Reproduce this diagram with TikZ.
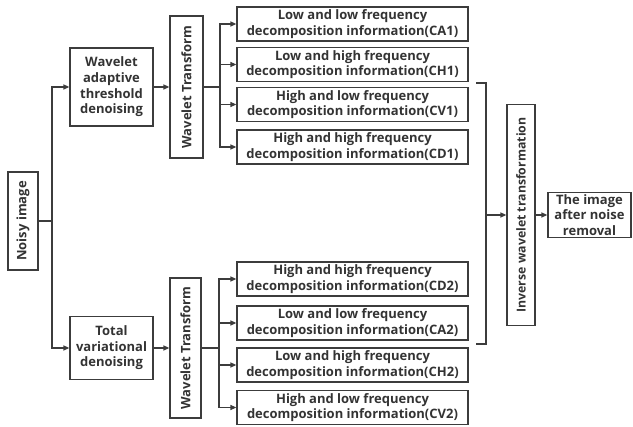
\documentclass[tikz,border=0pt]{standalone}
\usepackage{fontspec}
\setmainfont{Open Sans}
\usetikzlibrary{arrows.meta}
\definecolor{ln}{HTML}{3C3C3C}
\definecolor{tx}{HTML}{333333}
\begin{document}
\begin{tikzpicture}[x=1pt,y=-1pt,
  every node/.style={font=\fontsize{13}{15.6}\selectfont\bfseries, text=tx},
  box/.style={draw=ln, line width=1.2pt, inner sep=1pt, align=center},
  vbox/.style={box, rotate=90},
  conn/.style={draw=ln, line width=1.2pt},
  arr/.style={conn, -{Triangle[length=6pt,width=5pt]}}]
\useasboundingbox (0,0) rectangle (633,427);
% left
\node[vbox, minimum width=98, minimum height=30] (noisy) at (23,221) {Noisy image};
\node[box, minimum width=83, minimum height=78] (wat) at (111.5,87) {Wavelet\\adaptive\\threshold\\denoising};
\node[box, minimum width=83, minimum height=63] (tv) at (111.5,348) {Total\\variational\\denoising};
\node[vbox, minimum width=142, minimum height=33] (wt1) at (186.5,87) {Wavelet Transform};
\node[vbox, minimum width=140, minimum height=31] (wt2) at (185.5,348) {Wavelet Transform};
% decomposition boxes
\foreach \n/\y/\t in {a1/24/{Low and low frequency\\decomposition information(CA1)},
                      a2/64.5/{Low and high frequency\\decomposition information(CH1)},
                      a3/104.5/{High and low frequency\\decomposition information(CV1)},
                      a4/147/{High and high frequency\\decomposition information(CD1)},
                      b1/279/{High and high frequency\\decomposition information(CD2)},
                      b2/323/{Low and low frequency\\decomposition information(CA2)},
                      b3/365/{Low and high frequency\\decomposition information(CH2)},
                      b4/407.5/{High and low frequency\\decomposition information(CV2)}}
  \node[box, minimum width=231, minimum height=34] (\n) at (352.5,\y) {\t};
% right
\node[vbox, minimum width=221, minimum height=28, font=\fontsize{12.3}{15}\selectfont\bfseries] (iwt) at (521,215) {Inverse wavelet transformation};
\node[box, minimum width=83, minimum height=45] (out) at (589.5,215) {The image\\after noise\\removal};
% junction coordinates
\coordinate (j) at (52,221);
\coordinate (k1) at (220,87);
\coordinate (k2) at (219,348);
\coordinate (bt0) at (476,83);
\coordinate (bt) at (486,83);
\coordinate (bb) at (486,344);
\coordinate (bb0) at (476,344);
\coordinate (m) at (486,215);
% connectors
\draw[conn] (noisy) -- (j);
\draw[arr] (j) |- (wat.west);
\draw[arr] (j) |- (tv.west);
\draw[arr] (wat) -- (wt1);
\draw[arr] (tv) -- (wt2);
\draw[conn] (wt1) -- (k1);
\draw[conn] (wt2) -- (k2);
\foreach \n in {a1,a2,a3,a4} \draw[arr] (k1) |- (\n.west);
\foreach \n in {b1,b2,b3,b4} \draw[arr] (k2) |- (\n.west);
\draw[conn] (bt0) -- (bt) -- (bb) -- (bb0);
\draw[arr] (m) -- (iwt);
\draw[arr] (iwt) -- (out);
\end{tikzpicture}
\end{document}
